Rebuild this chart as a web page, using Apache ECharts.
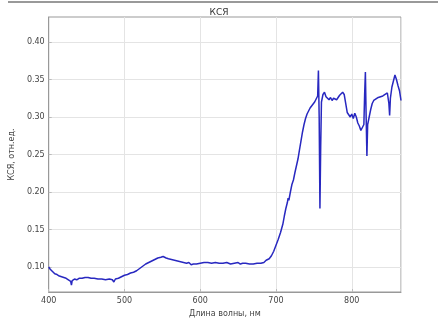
<!DOCTYPE html>
<html>
<head>
<meta charset="utf-8">
<script src="https://cdn.jsdelivr.net/npm/echarts@6/dist/echarts.min.js"></script>
<style>html,body{margin:0;padding:0;background:#fff}#c{width:438px;height:327px}</style>
</head>
<body>
<div id="c"></div>
<script>
const titleText = "КСЯ";
const xName = "Длина волны, нм";
const yName = "КСЯ, отн.ед.";
const yTicks = [0.10, 0.15, 0.20, 0.25, 0.30, 0.35, 0.40];
const wavelengths = [400,402,405,408,411,414,417,420,423,426,429,430,431,434,437,440,444,448,452,456,460,465,470,475,480,484,486,488,492,496,500,504,508,512,516,518,520,524,528,532,536,540,544,548,551,553,555,558,562,566,570,574,578,582,585,588,591,595,600,605,610,615,620,625,630,635,640,645,650,653,656,660,665,670,675,680,684,687,689,691,694,697,700,703,706,709,711,713,715,716,717,719,721,723,725,727,729,731,733,735,737,739,741,743,745,748,751,753,755,756,757,758,759,760,762,764,766,768,770,772,774,776,778,780,782,784,786,788,790,792,794,796,798,800,802,804,806,808,810,812,814,816,817,818,819,820,821,823,825,827,829,832,835,838,841,844,847,849,850,851,853,855,857,859,861,863,865];
const ksya = [0.100,0.097,0.094,0.091,0.090,0.088,0.087,0.086,0.085,0.083,0.081,0.076,0.082,0.084,0.083,0.085,0.085,0.086,0.086,0.085,0.085,0.084,0.084,0.083,0.084,0.083,0.080,0.084,0.085,0.087,0.089,0.090,0.092,0.093,0.095,0.093,0.098,0.101,0.104,0.106,0.108,0.110,0.112,0.113,0.114,0.115,0.112,0.111,0.110,0.109,0.108,0.107,0.106,0.105,0.106,0.103,0.104,0.104,0.105,0.106,0.106,0.105,0.106,0.105,0.105,0.106,0.104,0.105,0.106,0.104,0.105,0.105,0.104,0.104,0.105,0.105,0.106,0.109,0.107,0.111,0.115,0.121,0.129,0.137,0.146,0.157,0.168,0.178,0.186,0.192,0.189,0.200,0.210,0.216,0.226,0.235,0.244,0.256,0.268,0.280,0.290,0.298,0.304,0.308,0.312,0.316,0.320,0.324,0.328,0.362,0.300,0.178,0.260,0.320,0.330,0.333,0.327,0.325,0.323,0.326,0.322,0.325,0.327,0.323,0.326,0.329,0.331,0.333,0.330,0.318,0.306,0.303,0.300,0.304,0.298,0.305,0.300,0.292,0.288,0.282,0.280,0.290,0.330,0.360,0.300,0.248,0.290,0.300,0.310,0.318,0.322,0.324,0.326,0.327,0.328,0.330,0.332,0.318,0.302,0.325,0.340,0.348,0.356,0.350,0.342,0.335,0.322];

const data = wavelengths.map((w, i) => [w, ksya[i]]);
const chart = echarts.init(document.getElementById('c'), null, {renderer: 'canvas'});
const labelStyle = {color: '#444', fontSize: 8, fontFamily: 'DejaVu Sans'};
chart.setOption({
  animation: false,
  backgroundColor: '#fff',
  title: {text: titleText, left: 'center', top: 3, itemGap: 0,
    textStyle: {fontSize: 9, fontWeight: 'normal', color: '#333', fontFamily: 'DejaVu Sans'}},
  graphic: [{type: 'rect', shape: {x: 8, y: 1, width: 430, height: 2}, style: {fill: '#999'}}],
  grid: {left: 43, top: 17, right: 37, bottom: 35, show: true, borderColor: '#999', borderWidth: 1},
  xAxis: {
    type: 'value', min: 400, max: 865, interval: 100,
    name: xName, nameLocation: 'middle', nameGap: 18,
    nameTextStyle: {color: '#444', fontSize: 8, fontFamily: 'DejaVu Sans'},
    axisLine: {show: true, lineStyle: {color: '#999'}},
    axisTick: {show: true, inside: true, length: 3, lineStyle: {color: '#bbb'}},
    axisLabel: Object.assign({margin: 5, showMaxLabel: false}, labelStyle),
    splitLine: {show: true, lineStyle: {color: '#e4e4e4', width: 1}}
  },
  yAxis: {
    type: 'value', min: 0.0667, max: 0.4333,
    name: yName, nameLocation: 'middle', nameGap: 30, nameRotate: 90,
    nameTextStyle: {color: '#444', fontSize: 8, fontFamily: 'DejaVu Sans'},
    axisLine: {show: true, lineStyle: {color: '#999'}},
    axisTick: {show: true, inside: true, length: 3, customValues: yTicks, lineStyle: {color: '#bbb'}},
    axisLabel: Object.assign({margin: 4, customValues: yTicks, formatter: v => v.toFixed(2)}, labelStyle),
    splitLine: {show: true, lineStyle: {color: '#e4e4e4', width: 1}}
  },
  series: [{
    type: 'line', data: data, showSymbol: false, symbol: 'none',
    lineStyle: {color: '#2828c0', width: 1.5}
  }]
});
</script>
</body>
</html>
